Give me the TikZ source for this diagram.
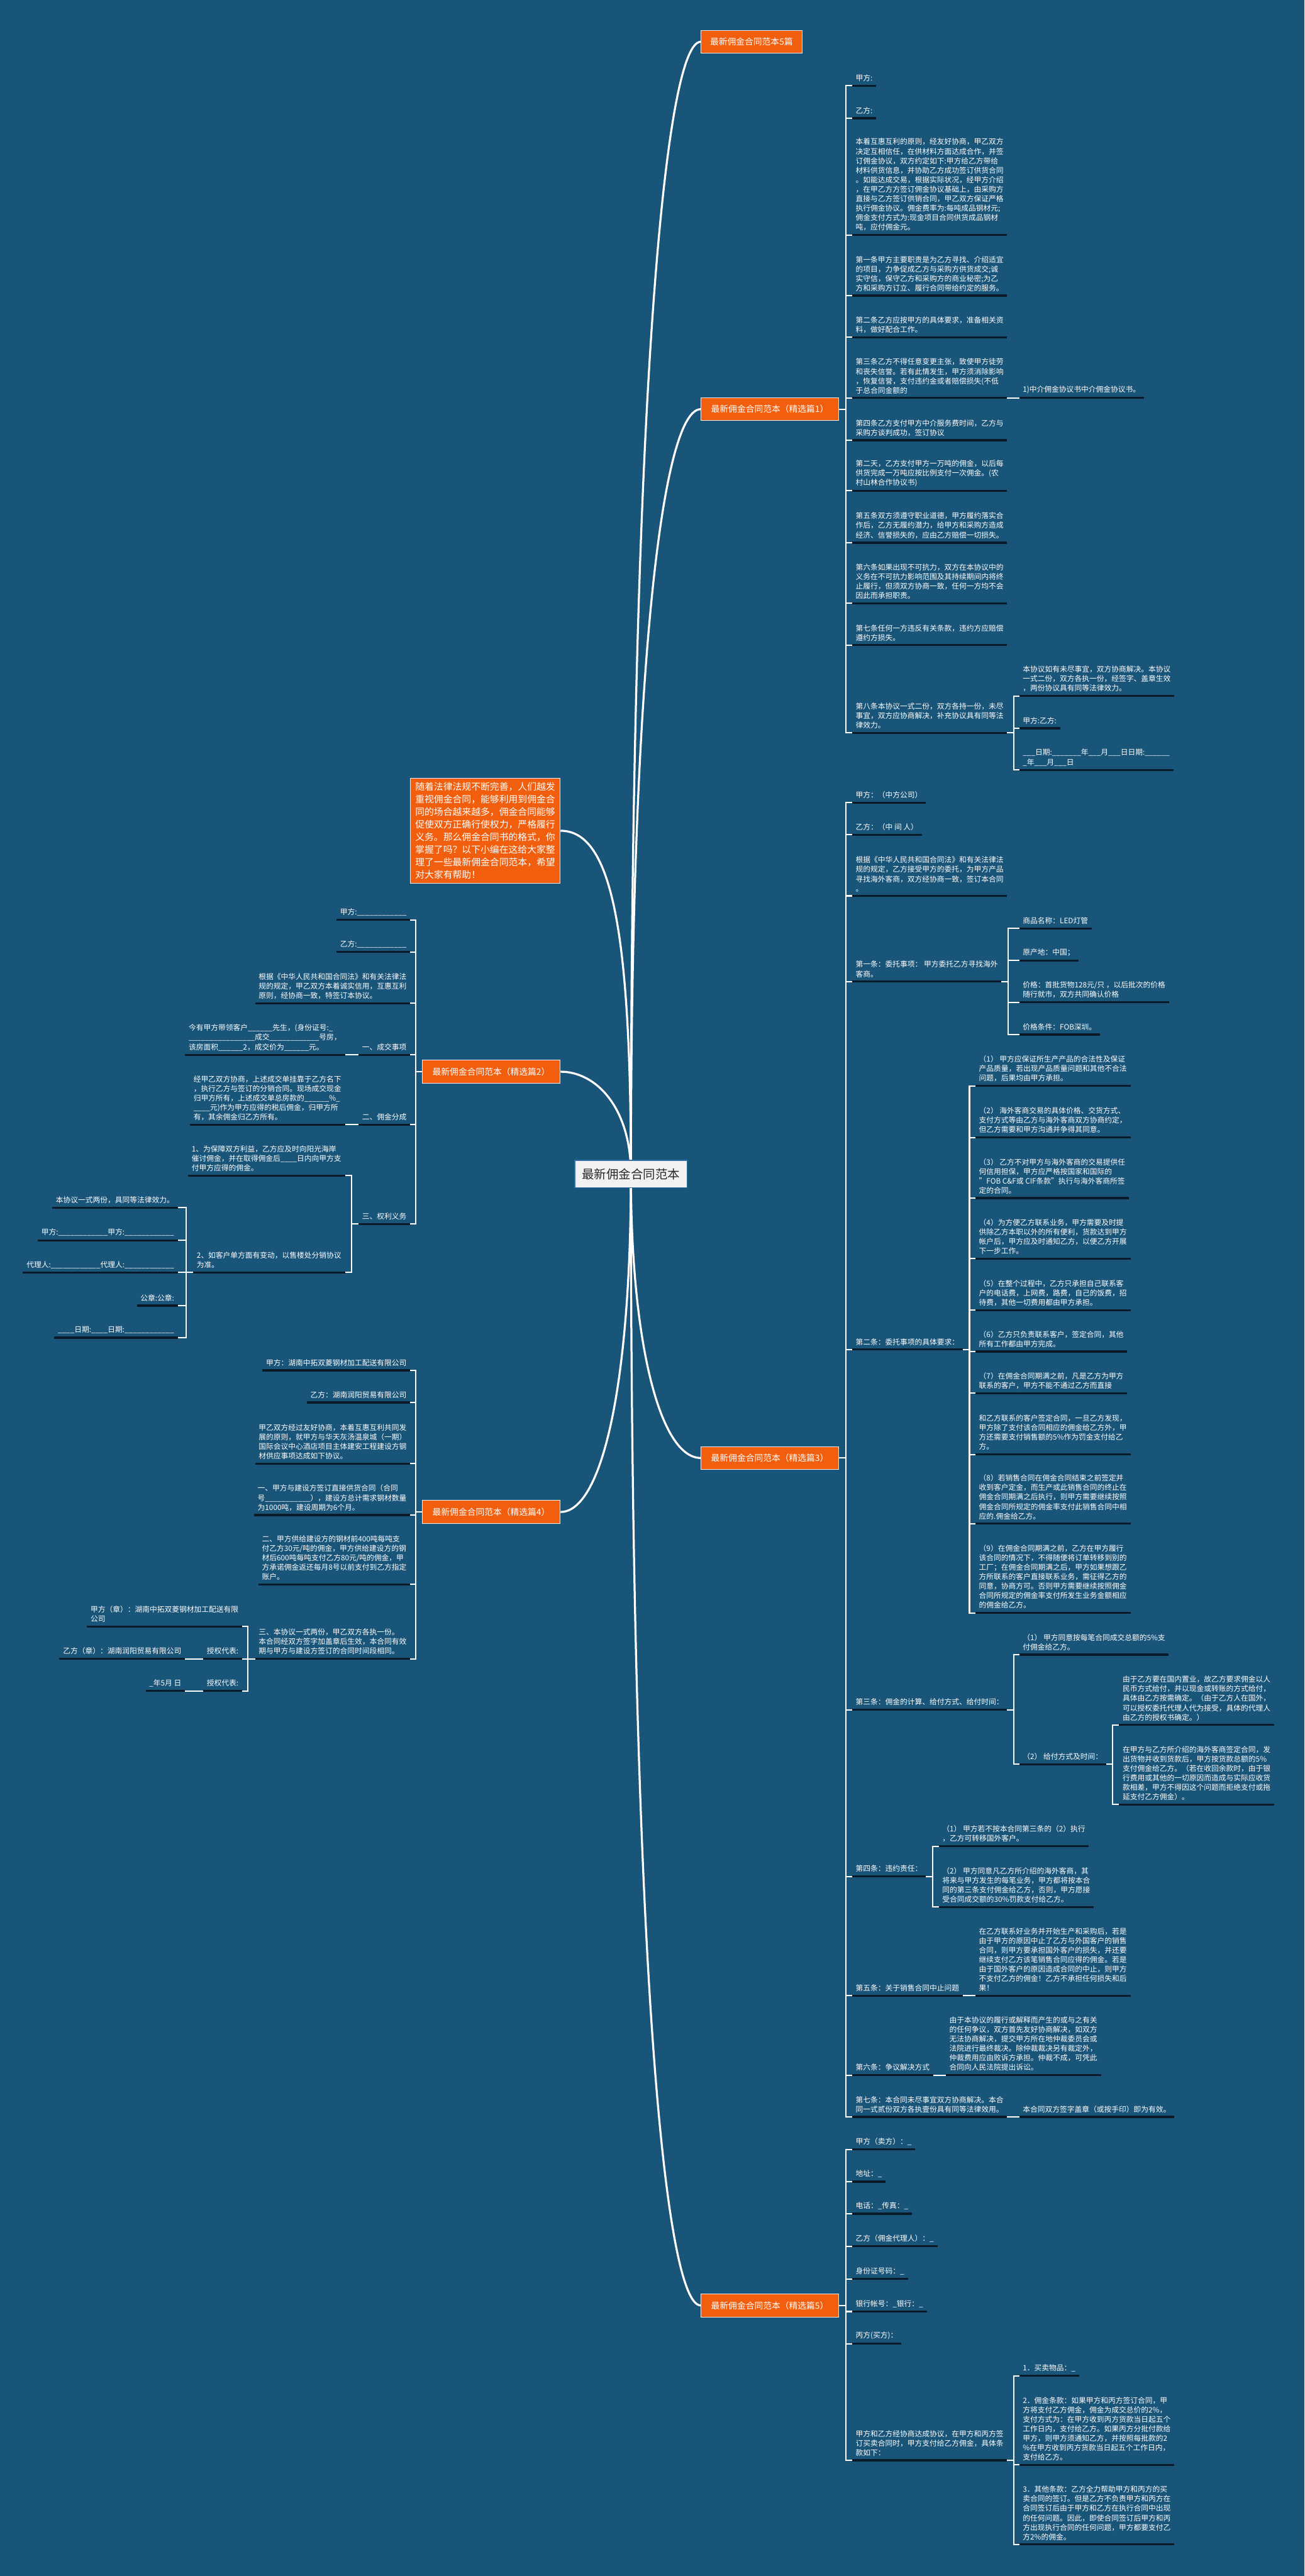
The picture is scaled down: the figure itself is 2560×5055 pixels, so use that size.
\documentclass[tikz,border=0pt]{standalone}
\usepackage{fontspec}
\setmainfont{Noto Sans CJK SC}
\usetikzlibrary{backgrounds}
\definecolor{bgblue}{RGB}{25,84,121}
\definecolor{topicfill}{RGB}{240,94,14}
\definecolor{ulink}{RGB}{10,26,40}
\definecolor{rootfill}{RGB}{242,242,242}
\definecolor{rootline}{RGB}{52,110,165}
\definecolor{rootink}{RGB}{40,40,40}

\begin{document}
\begin{tikzpicture}[x=1pt,y=-1pt,
  root/.style={draw=rootline,fill=rootfill,line width=1.5pt,text=rootink,font=\fontsize{24}{28}\selectfont,minimum width=220pt,minimum height=54pt,inner sep=0pt},
  topic/.style={draw=white!85!gray,fill=topicfill,line width=1.2pt,text=white,font=\fontsize{17}{20}\selectfont,minimum height=45pt,inner xsep=15pt,inner ysep=0pt},
  intro/.style={topic,align=left,font=\fontsize{18.3}{24.6}\selectfont,inner xsep=10pt,inner ysep=9pt,anchor=north east},
  leaf/.style={text=white,font=\fontsize{14.5}{18.6}\selectfont,align=left,inner xsep=7pt,inner ysep=8pt,
    append after command={(\tikzlastnode.south west) edge[uline] (\tikzlastnode.south east)}},
  rleaf/.style={leaf,anchor=south west},
  lleaf/.style={leaf,anchor=south east},
  uline/.style={draw=ulink,line width=4pt},
  wline/.style={draw=white,line width=2.5pt},
  curve/.style={draw=white,line width=4pt}]
\useasboundingbox (0,0) rectangle (2560,5055);

\node[root] (root) at (1238,2304) {最新佣金合同范本};
\node[intro] (intro) at (1100,1526) {随着法律法规不断完善，人们越发\\重视佣金合同，能够利用到佣金合\\同的场合越来越多，佣金合同能够\\促使双方正确行使权力，严格履行\\义务。那么佣金合同书的格式，你\\掌握了吗？以下小编在这给大家整\\理了一些最新佣金合同范本，希望\\对大家有帮助！};
\node[topic,anchor=west,minimum width=198pt] (b0) at (1375,82) {最新佣金合同范本5篇};
\node[topic,anchor=west,minimum width=270pt] (b1) at (1375,803) {最新佣金合同范本（精选篇1）};
\node[topic,anchor=east,minimum width=271pt] (b2) at (1100,2103) {最新佣金合同范本（精选篇2）};
\node[topic,anchor=west,minimum width=270pt] (b3) at (1375,2861) {最新佣金合同范本（精选篇3）};
\node[topic,anchor=east,minimum width=271pt] (b4) at (1100,2967) {最新佣金合同范本（精选篇4）};
\node[topic,anchor=west,minimum width=270pt] (b5) at (1375,4524) {最新佣金合同范本（精选篇5）};

\node[rleaf] (b1c1) at (1672,168) {甲方:};
\node[rleaf] (b1c2) at (1672,232) {乙方:};
\node[rleaf] (b1c3) at (1672,461) {本着互惠互利的原则，经友好协商，甲乙双方\\决定互相信任，在供材料方面达成合作，并签\\订佣金协议，双方约定如下:甲方给乙方带给\\材料供货信息，并协助乙方成功签订供货合同\\。如能达成交易，根据实际状况，经甲方介绍\\，在甲乙方方签订佣金协议基础上，由采购方\\直接与乙方签订供销合同，甲乙双方保证严格\\执行佣金协议。佣金费率为:每吨成品钢材元;\\佣金支付方式为:现金项目合同供货成品钢材\\吨，应付佣金元。};
\node[rleaf] (b1c4) at (1672,580) {第一条甲方主要职责是为乙方寻找、介绍适宜\\的项目，力争促成乙方与采购方供货成交;诚\\实守信，保守乙方和采购方的商业秘密;为乙\\方和采购方订立、履行合同带给约定的服务。};
\node[rleaf] (b1c5) at (1672,662) {第二条乙方应按甲方的具体要求，准备相关资\\料，做好配合工作。};
\node[rleaf] (b1c6) at (1672,781) {第三条乙方不得任意变更主张，致使甲方徒劳\\和丧失信誉。若有此情发生，甲方须消除影响\\，恢复信誉，支付违约金或者赔偿损失(不低\\于总合同金额的};
\node[rleaf] (b1c6a) at (2000,781) {1)中介佣金协议书中介佣金协议书。};
\node[rleaf] (b1c7) at (1672,864) {第四条乙方支付甲方中介服务费时间，乙方与\\采购方谈判成功，签订协议};
\node[rleaf] (b1c8) at (1672,963) {第二天，乙方支付甲方一万吨的佣金，以后每\\供货完成一万吨应按比例支付一次佣金。(农\\村山林合作协议书)};
\node[rleaf] (b1c9) at (1672,1065) {第五条双方须遵守职业道德，甲方履约落实合\\作后，乙方无履约潜力，给甲方和采购方造成\\经济、信誉损失的，应由乙方赔偿一切损失。};
\node[rleaf] (b1c10) at (1672,1184) {第六条如果出现不可抗力，双方在本协议中的\\义务在不可抗力影响范围及其持续期间内将终\\止履行，但须双方协商一致，任何一方均不会\\因此而承担职责。};
\node[rleaf] (b1c11) at (1672,1266) {第七条任何一方违反有关条款，违约方应赔偿\\遵约方损失。};
\node[rleaf] (b1c12) at (1672,1438) {第八条本协议一式二份，双方各持一份，未尽\\事宜，双方应协商解决，补充协议具有同等法\\律效力。};
\node[rleaf] (b1c12a) at (2000,1366) {本协议如有未尽事宜，双方协商解决。本协议\\一式二份，双方各执一份，经签字、盖章生效\\，两份协议具有同等法律效力。};
\node[rleaf] (b1c12b) at (2000,1429) {甲方:乙方:};
\node[rleaf] (b1c12c) at (2000,1511) {\_\_\_日期:\_\_\_\_\_\_\_年\_\_\_月\_\_\_日日期:\_\_\_\_\_\_\\\_年\_\_\_月\_\_\_日};

\node[lleaf] (b2c1) at (805,1805) {甲方:\_\_\_\_\_\_\_\_\_\_\_\_};
\node[lleaf] (b2c2) at (805,1868) {乙方:\_\_\_\_\_\_\_\_\_\_\_\_};
\node[lleaf] (b2c3) at (805,1969) {根据《中华人民共和国合同法》和有关法律法\\规的规定，甲乙双方本着诚实信用，互惠互利\\原则，经协商一致，特签订本协议。};
\node[lleaf] (b2c4) at (805,2070) {一、成交事项};
\node[lleaf] (b2c4a) at (677,2070) {今有甲方带领客户\_\_\_\_\_\_先生，(身份证号:\_\\\_\_\_\_\_\_\_\_\_\_\_\_\_\_\_\_成交\_\_\_\_\_\_\_\_\_\_\_\_号房，\\该房面积\_\_\_\_\_\_2，成交价为\_\_\_\_\_\_元。};
\node[lleaf] (b2c5) at (805,2207) {二、佣金分成};
\node[lleaf] (b2c5a) at (677,2207) {经甲乙双方协商，上述成交单挂靠于乙方名下\\，执行乙方与签订的分销合同。现场成交现金\\归甲方所有，上述成交单总房款的\_\_\_\_\_\_\%\_\\\_\_\_\_元)作为甲方应得的税后佣金，归甲方所\\有，其余佣金归乙方所有。};
\node[lleaf] (b2c6) at (805,2402) {三、权利义务};
\node[lleaf] (b2c6a) at (677,2307) {1、为保障双方利益，乙方应及时向阳光海岸\\催讨佣金，并在取得佣金后\_\_\_\_日内向甲方支\\付甲方应得的佣金。};
\node[lleaf] (b2c6b) at (677,2497) {2、如客户单方面有变动，以售楼处分销协议\\为准。};
\node[lleaf] (b2c6b1) at (349,2370) {本协议一式两份，具同等法律效力。};
\node[lleaf] (b2c6b2) at (349,2434) {甲方:\_\_\_\_\_\_\_\_\_\_\_\_甲方:\_\_\_\_\_\_\_\_\_\_\_\_};
\node[lleaf] (b2c6b3) at (349,2497) {代理人:\_\_\_\_\_\_\_\_\_\_\_\_代理人:\_\_\_\_\_\_\_\_\_\_\_\_};
\node[lleaf] (b2c6b4) at (349,2562) {公章:公章:};
\node[lleaf] (b2c6b5) at (349,2625) {\_\_\_\_日期:\_\_\_\_日期:\_\_\_\_\_\_\_\_\_\_\_\_};

\node[rleaf] (b3c1) at (1672,1575) {甲方：（中方公司）};
\node[rleaf] (b3c2) at (1672,1638) {乙方：（中 间 人）};
\node[rleaf] (b3c3) at (1672,1758) {根据《中华人民共和国合同法》和有关法律法\\规的规定，乙方接受甲方的委托，为甲方产品\\寻找海外客商，双方经协商一致，签订本合同\\。};
\node[rleaf] (b3c4) at (1672,1926) {第一条：委托事项： 甲方委托乙方寻找海外\\客商。};
\node[rleaf] (b3c4a) at (2000,1822) {商品名称：LED灯管};
\node[rleaf] (b3c4b) at (2000,1885) {原产地：中国；};
\node[rleaf] (b3c4c) at (2000,1967) {价格：首批货物128元/只 ，以后批次的价格\\随行就市，双方共同确认价格};
\node[rleaf] (b3c4d) at (2000,2030) {价格条件：FOB深圳。};
\node[rleaf] (b3c5) at (1672,2648) {第二条：委托事项的具体要求：};
\node[rleaf] (b3c5a) at (1914,2131) {（1） 甲方应保证所生产产品的合法性及保证\\产品质量，若出现产品质量问题和其他不合法\\问题，后果均由甲方承担。};
\node[rleaf] (b3c5b) at (1914,2232) {（2） 海外客商交易的具体价格、交货方式、\\支付方式等由乙方与海外客商双方协商约定，\\但乙方需要和甲方沟通并争得其同意。};
\node[rleaf] (b3c5c) at (1914,2351) {（3） 乙方不对甲方与海外客商的交易提供任\\何信用担保，甲方应严格按国家和国际的\\"FOB C\&F或 CIF条款"执行与海外客商所签\\定的合同。};
\node[rleaf] (b3c5d) at (1914,2470) {（4）为方便乙方联系业务，甲方需要及时提\\供除乙方本职以外的所有便利，货款达到甲方\\帐户后，甲方应及时通知乙方，以便乙方开展\\下一步工作。};
\node[rleaf] (b3c5e) at (1914,2571) {（5）在整个过程中，乙方只承担自己联系客\\户的电话费，上网费，路费，自己的饭费，招\\待费，其他一切费用都由甲方承担。};
\node[rleaf] (b3c5f) at (1914,2652) {（6）乙方只负责联系客户，签定合同，其他\\所有工作都由甲方完成。};
\node[rleaf] (b3c5g) at (1914,2734) {（7）在佣金合同期满之前，凡是乙方为甲方\\联系的客户，甲方不能不通过乙方而直接};
\node[rleaf] (b3c5h) at (1914,2854) {和乙方联系的客户签定合同，一旦乙方发现，\\甲方除了支付该合同相应的佣金给乙方外，甲\\方还需要支付销售额的5\%作为罚金支付给乙\\方。};
\node[rleaf] (b3c5i) at (1914,2990) {（8）若销售合同在佣金合同结束之前签定并\\收到客户定金，而生产或此销售合同的终止在\\佣金合同期满之后执行，则甲方需要继续按照\\佣金合同所规定的佣金率支付此销售合同中相\\应的.佣金给乙方。};
\node[rleaf] (b3c5j) at (1914,3165) {（9）在佣金合同期满之前，乙方在甲方履行\\该合同的情况下，不得随便将订单转移到别的\\工厂；在佣金合同期满之后，甲方如果想跟乙\\方所联系的客户直接联系业务，需征得乙方的\\同意，协商方可。否则甲方需要继续按照佣金\\合同所规定的佣金率支付所发生业务金额相应\\的佣金给乙方。};
\node[rleaf] (b3c6) at (1672,3355) {第三条：佣金的计算、给付方式、给付时间：};
\node[rleaf] (b3c6a) at (2000,3247) {（1） 甲方同意按每笔合同成交总额的5\%支\\付佣金给乙方。};
\node[rleaf] (b3c6b) at (2000,3462) {（2） 给付方式及时间：};
\node[rleaf] (b3c6b1) at (2196,3385) {由于乙方要在国内置业，故乙方要求佣金以人\\民币方式给付，并以现金或转账的方式给付，\\具体由乙方按需确定。（由于乙方人在国外，\\可以授权委托代理人代为接受，具体的代理人\\由乙方的授权书确定。）};
\node[rleaf] (b3c6b2) at (2196,3541) {在甲方与乙方所介绍的海外客商签定合同，发\\出货物并收到货款后，甲方按货款总额的5\%\\支付佣金给乙方。（若在收回余款时，由于银\\行费用或其他的一切原因而造成与实际应收货\\款相差，甲方不得因这个问题而拒绝支付或拖\\延支付乙方佣金）。};
\node[rleaf] (b3c7) at (1672,3682) {第四条：违约责任：};
\node[rleaf] (b3c7a) at (1842,3623) {（1） 甲方若不按本合同第三条的（2）执行\\，乙方可转移国外客户。};
\node[rleaf] (b3c7b) at (1842,3742) {（2） 甲方同意凡乙方所介绍的海外客商，其\\将来与甲方发生的每笔业务，甲方都将按本合\\同的第三条支付佣金给乙方，否则，甲方愿接\\受合同成交额的30\%罚款支付给乙方。};
\node[rleaf] (b3c8) at (1672,3916) {第五条：关于销售合同中止问题};
\node[rleaf] (b3c8a) at (1914,3916) {在乙方联系好业务并开始生产和采购后，若是\\由于甲方的原因中止了乙方与外国客户的销售\\合同，则甲方要承担国外客户的损失，并还要\\继续支付乙方该笔销售合同应得的佣金。若是\\由于国外客户的原因造成合同的中止，则甲方\\不支付乙方的佣金！乙方不承担任何损失和后\\果！};
\node[rleaf] (b3c9) at (1672,4072) {第六条：争议解决方式};
\node[rleaf] (b3c9a) at (1856,4072) {由于本协议的履行或解释而产生的或与之有关\\的任何争议，双方首先友好协商解决，如双方\\无法协商解决，提交甲方所在地仲裁委员会或\\法院进行最终裁决。除仲裁裁决另有裁定外，\\仲裁费用应由败诉方承担。仲裁不成，可凭此\\合同向人民法院提出诉讼。};
\node[rleaf] (b3c10) at (1672,4154) {第七条：本合同未尽事宜双方协商解决。本合\\同一式贰份双方各执壹份具有同等法律效用。};
\node[rleaf] (b3c10a) at (2000,4154) {本合同双方签字盖章（或按手印）即为有效。};

\node[lleaf] (b4c1) at (805,2689) {甲方：湖南中拓双菱钢材加工配送有限公司};
\node[lleaf] (b4c2) at (805,2752) {乙方：湖南润阳贸易有限公司};
\node[lleaf] (b4c3) at (805,2872) {甲乙双方经过友好协商，本着互惠互利共同发\\展的原则，就甲方与华天灰汤温泉城（一期）\\国际会议中心酒店项目主体建安工程建设方钢\\材供应事项达成如下协议。};
\node[lleaf] (b4c4) at (805,2973) {一、甲方与建设方签订直接供货合同（合同\\号\_\_\_\_\_\_\_\_\_\_\_），建设方总计需求钢材数量\\为1000吨，建设周期为6个月。};
\node[lleaf] (b4c5) at (805,3109) {二、甲方供给建设方的钢材前400吨每吨支\\付乙方30元/吨的佣金，甲方供给建设方的钢\\材后600吨每吨支付乙方80元/吨的佣金，甲\\方承诺佣金返还每月8号以前支付到乙方指定\\账户。};
\node[lleaf] (b4c6) at (805,3255) {三、本协议一式两份，甲乙双方各执一份。\\本合同经双方签字加盖章后生效，本合同有效\\期与甲方与建设方签订的合同时间段相同。};
\node[lleaf] (b4c6a) at (475,3192) {甲方（章）：湖南中拓双菱钢材加工配送有限\\公司};
\node[lleaf] (b4c6b) at (475,3255) {授权代表:};
\node[lleaf] (b4c6b1) at (363,3255) {乙方（章）：湖南润阳贸易有限公司};
\node[lleaf] (b4c6c) at (475,3318) {授权代表:};
\node[lleaf] (b4c6c1) at (363,3318) {\_年5月 日};

\node[rleaf] (b5c1) at (1672,4218) {甲方（卖方）：\_};
\node[rleaf] (b5c2) at (1672,4281) {地址：\_};
\node[rleaf] (b5c3) at (1672,4344) {电话：\_传真：\_};
\node[rleaf] (b5c4) at (1672,4408) {乙方（佣金代理人）：\_};
\node[rleaf] (b5c5) at (1672,4472) {身份证号码：\_};
\node[rleaf] (b5c6) at (1672,4536) {银行帐号：\_银行：\_};
\node[rleaf] (b5c7) at (1672,4599) {丙方(买方)：};
\node[rleaf] (b5c8) at (1672,4828) {甲方和乙方经协商达成协议，在甲方和丙方签\\订买卖合同时，甲方支付给乙方佣金，具体条\\款如下：};
\node[rleaf] (b5c8a) at (2000,4662) {1．买卖物品：\_};
\node[rleaf] (b5c8b) at (2000,4837) {2．佣金条款：如果甲方和丙方签订合同，甲\\方将支付乙方佣金，佣金为成交总价的2\%，\\支付方式为：在甲方收到丙方货款当日起五个\\工作日内，支付给乙方。如果丙方分批付款给\\甲方，则甲方须通知乙方，并按照每批款的2\\\%在甲方收到丙方货款当日起五个工作日内，\\支付给乙方。};
\node[rleaf] (b5c8c) at (2000,4993) {3．其他条款：乙方全力帮助甲方和丙方的买\\卖合同的签订。但是乙方不负责甲方和丙方在\\合同签订后由于甲方和乙方在执行合同中出现\\的任何问题。因此，即使合同签订后甲方和丙\\方出现执行合同的任何问题，甲方都要支付乙\\方2\%的佣金。};

\foreach \c in {b1c1,b1c2,b1c3,b1c4,b1c5,b1c6,b1c7,b1c8,b1c9,b1c10,b1c11,b1c12}
  \draw[wline] (b1.east) -- ++(14,0) |- (\c.south west);
\draw[wline] (b1c6.south east) -- ++(13,0) |- (b1c6a.south west);
\foreach \c in {b1c12a,b1c12b,b1c12c}
  \draw[wline] (b1c12.south east) -- ++(13,0) |- (\c.south west);

\foreach \c in {b2c1,b2c2,b2c3,b2c4,b2c5,b2c6}
  \draw[wline] (b2.west) -- ++(-12,0) |- (\c.south east);
\draw[wline] (b2c4.south west) -- ++(-14,0) |- (b2c4a.south east);
\draw[wline] (b2c5.south west) -- ++(-14,0) |- (b2c5a.south east);
\foreach \c in {b2c6a,b2c6b}
  \draw[wline] (b2c6.south west) -- ++(-14,0) |- (\c.south east);
\foreach \c in {b2c6b1,b2c6b2,b2c6b3,b2c6b4,b2c6b5}
  \draw[wline] (b2c6b.south west) -- ++(-14,0) |- (\c.south east);

\foreach \c in {b3c1,b3c2,b3c3,b3c4,b3c5,b3c6,b3c7,b3c8,b3c9,b3c10}
  \draw[wline] (b3.east) -- ++(14,0) |- (\c.south west);
\foreach \c in {b3c4a,b3c4b,b3c4c,b3c4d}
  \draw[wline] (b3c4.south east) -- ++(13,0) |- (\c.south west);
\foreach \c in {b3c5a,b3c5b,b3c5c,b3c5d,b3c5e,b3c5f,b3c5g,b3c5h,b3c5i,b3c5j}
  \draw[wline] (b3c5.south east) -- ++(13,0) |- (\c.south west);
\foreach \c in {b3c6a,b3c6b}
  \draw[wline] (b3c6.south east) -- ++(13,0) |- (\c.south west);
\foreach \c in {b3c6b1,b3c6b2}
  \draw[wline] (b3c6b.south east) -- ++(13,0) |- (\c.south west);
\foreach \c in {b3c7a,b3c7b}
  \draw[wline] (b3c7.south east) -- ++(13,0) |- (\c.south west);
\draw[wline] (b3c8.south east) -- (b3c8a.south west);
\draw[wline] (b3c9.south east) -- (b3c9a.south west);
\draw[wline] (b3c10.south east) -- (b3c10a.south west);

\foreach \c in {b4c1,b4c2,b4c3,b4c4,b4c5,b4c6}
  \draw[wline] (b4.west) -- ++(-12,0) |- (\c.south east);
\foreach \c in {b4c6a,b4c6b,b4c6c}
  \draw[wline] (b4c6.south west) -- ++(-14,0) |- (\c.south east);
\draw[wline] (b4c6b.south west) -- (b4c6b1.south east);
\draw[wline] (b4c6c.south west) -- (b4c6c1.south east);

\foreach \c in {b5c1,b5c2,b5c3,b5c4,b5c5,b5c6,b5c7,b5c8}
  \draw[wline] (b5.east) -- ++(14,0) |- (\c.south west);
\foreach \c in {b5c8a,b5c8b,b5c8c}
  \draw[wline] (b5c8.south east) -- ++(13,0) |- (\c.south west);

\begin{pgfonlayer}{background}
\fill[bgblue] (0,0) rectangle (2560,5055);
\draw[curve] (root.center) .. controls +(0,-1520) and +(-70,0) .. (b0.west);
\draw[curve] (root.center) .. controls +(0,-1000) and +(-75,0) .. (b1.west);
\draw[curve] (root.center) .. controls +(0,-480) and +(100,0) .. (intro.east);
\draw[curve] (root.center) .. controls +(0,-130) and +(70,0) .. (b2.east);
\draw[curve] (root.center) .. controls +(0,330) and +(-80,0) .. (b3.west);
\draw[curve] (root.center) .. controls +(0,420) and +(80,0) .. (b4.east);
\draw[curve] (root.center) .. controls +(0,1550) and +(-70,0) .. (b5.west);
\end{pgfonlayer}
\end{tikzpicture}
\end{document}
